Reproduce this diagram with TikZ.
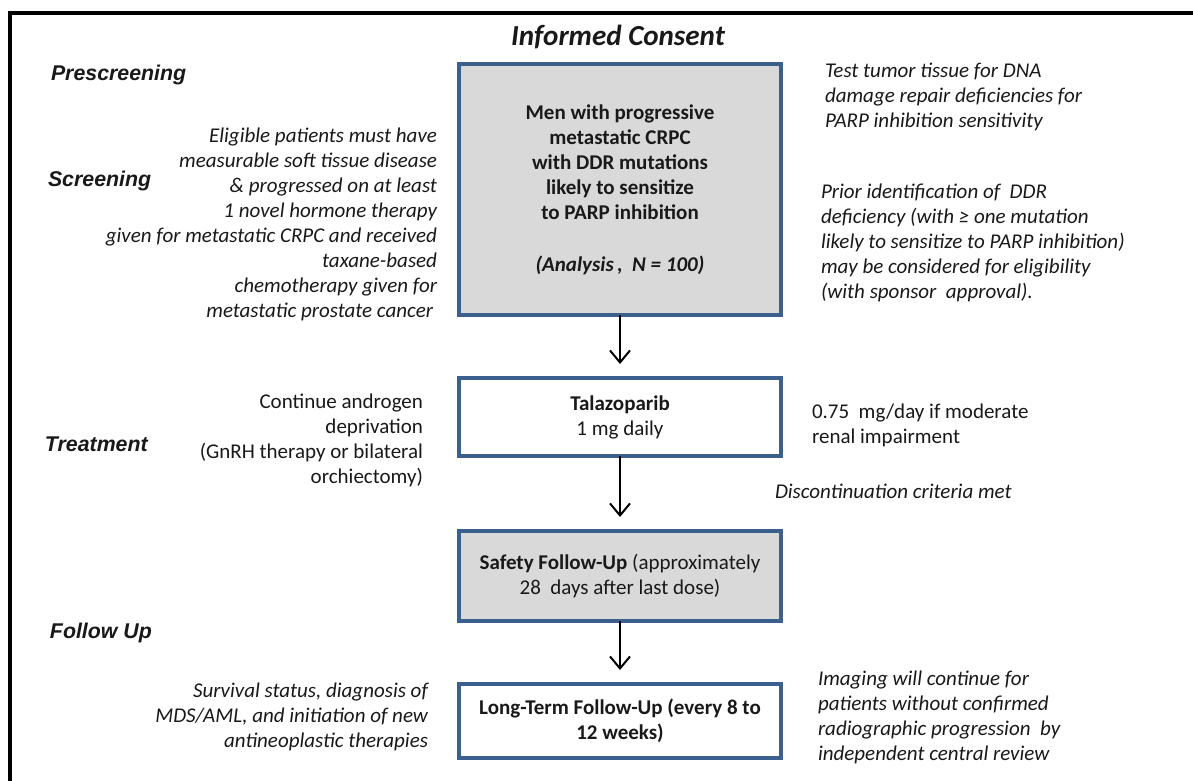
\documentclass[tikz,border=0pt]{standalone}
\usepackage{fontspec}
\setmainfont{Carlito}
\newfontfamily\arialf{Liberation Sans}
\usetikzlibrary{arrows.meta}
\definecolor{boxblue}{RGB}{60,96,142}
\definecolor{boxgray}{RGB}{217,217,217}
\definecolor{txt}{RGB}{25,25,25}
\begin{document}
\begin{tikzpicture}[x=0.75pt,y=-0.75pt,
  every node/.style={inner sep=0pt, outer sep=0pt, text=txt},
  phase/.style={font=\arialf\fontsize{16}{19}\selectfont\bfseries\itshape, anchor=west},
  body/.style={font=\fontsize{15.75}{18.75}\selectfont},
  note/.style={font=\fontsize{15.75}{18.75}\selectfont\itshape},
  stage/.style={draw=boxblue, line width=3pt, align=center, font=\fontsize{15.75}{18.75}\selectfont, minimum width=241.5pt},
  arr/.style={line width=1.5pt, -{Straight Barb[length=9pt,width=15pt]}, shorten >=10.5pt}
]
\useasboundingbox (0,0) rectangle (1193,781);
\fill[white] (0,0) rectangle (1193,781);
% frame
\draw[line width=3pt] (1193,13) -- (10,13) -- (10,781);

% title and phases
\node[font=\fontsize{21.8}{25}\selectfont\bfseries\itshape] (title) at (618,37) {Informed Consent};
\node[phase] (p1) at (51,75) {Prescreening};
\node[phase] (p2) at (48,181) {Screening};
\node[phase] (p3) at (45,444) {Treatment};
\node[phase] (p4) at (50,633) {Follow Up};

% boxes
\node[stage, fill=boxgray, minimum height=188.25pt] (b1) at (620,189.5)
  {\bfseries Men with progressive\\ \bfseries metastatic CRPC\\ \bfseries with DDR mutations\\ \bfseries likely to sensitize\\ \bfseries to PARP inhibition\\[20pt] \bfseries\itshape (Analysis\,,\ \ N = 100)};
\node[stage, minimum height=58.5pt] (b2) at (620,417)
  {\bfseries Talazoparib\\ 1 mg daily};
\node[stage, fill=boxgray, minimum height=67.5pt] (b3) at (620,576)
  {\textbf{Safety Follow-Up} (approximately\\ 28\ \ days after last dose)};
\node[stage, minimum height=55.5pt] (b4) at (620,721)
  {\bfseries Long-Term Follow-Up (every 8 to\\ \bfseries 12 weeks)};

% arrows
\draw[arr] (b1.south) -- (b2.north);
\draw[arr] (b2.south) -- (b3.north);
\draw[arr] (b3.south) -- (b4.north);

% left notes
\node[note, align=right, anchor=east] (scrn) at (437,224)
  {Eligible patients must have\\ measurable soft tissue disease\\ \& progressed on at least\\ 1 novel hormone therapy\\ given for metastatic CRPC and received\hspace*{5pt}\\ taxane-based\hspace*{4pt}\\ chemotherapy given for\\ metastatic prostate cancer\hspace*{3pt}};
\node[body, align=right, anchor=east] (trt) at (423,440)
  {Continue androgen\\ deprivation\\ (GnRH therapy or bilateral\\ orchiectomy)};
\node[note, align=right, anchor=east] (fu) at (428,717)
  {Survival status, diagnosis of\\ MDS/AML, and initiation of new\\ antineoplastic therapies};

% right notes
\node[note, align=left, anchor=west] (r1) at (825,97)
  {Test tumor tissue for DNA\\ damage repair deficiencies for\\ PARP inhibition sensitivity};
\node[note, align=left, anchor=west] (r2) at (821,243)
  {Prior identification of\ \ DDR\\ deficiency (with ≥ one mutation\\ likely to sensitize to PARP inhibition)\\ may be considered for eligibility\\ (with sponsor\ \ approval).};
\node[body, align=left, anchor=west] (r3) at (812,425)
  {0.75\ \ mg/day if moderate\\ renal impairment};
\node[note, anchor=west] (disc) at (775,491) {Discontinuation criteria met};
\node[note, align=left, anchor=west] (r4) at (818,717)
  {Imaging will continue for\\ patients without confirmed\\ radiographic progression\ \ by\\ independent central review};
\end{tikzpicture}
\end{document}
